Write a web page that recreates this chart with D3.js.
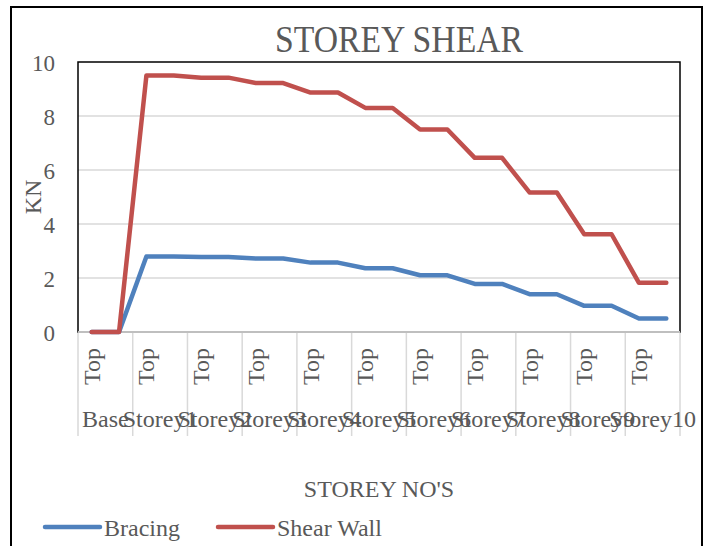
<!DOCTYPE html>
<html>
<head>
<meta charset="utf-8">
<script src="https://cdn.jsdelivr.net/npm/d3@7"></script>
<style>
  body { margin: 0; background: #fff; }
  text { font-family: "Liberation Serif", "Times New Roman", serif; fill: #595959; }
</style>
</head>
<body>
<div id="chart-container"></div>
<script>
(function() {
  'use strict';

// storey groups (outer level of the category axis)
const groups = ['Base', 'Storey1', 'Storey2', 'Storey3', 'Storey4', 'Storey5',
                'Storey6', 'Storey7', 'Storey8', 'Storey9', 'Storey10'];
// inner level: two points per storey, only the first one is labelled
const innerLabels = ['Top', ''];

const bracing = [0, 0, 2.8, 2.8, 2.78, 2.78, 2.72, 2.72, 2.57, 2.57, 2.36, 2.36,
                 2.1, 2.1, 1.78, 1.78, 1.4, 1.4, 0.97, 0.97, 0.5, 0.5];
const shearWall = [0, 0, 9.5, 9.5, 9.42, 9.42, 9.22, 9.22, 8.87, 8.87, 8.3, 8.3,
                   7.5, 7.5, 6.45, 6.45, 5.17, 5.17, 3.62, 3.62, 1.82, 1.82];

const yTicks = [0, 2, 4, 6, 8, 10];

const chart = "#chart-container";

const W = 709;
const H = 546;
const PLOT = { left: 78, right: 680, top: 62, bottom: 332 };

const BLUE = '#4F81BD';
const RED = '#C0504D';

const svg = d3.select(chart)
              .append('svg')
                .attr('width', W)
                .attr('height', H);

// outer chart border (runs off the bottom of the picture)
svg.append('rect')
  .attr('x', 11)
  .attr('y', 7)
  .attr('width', 691)
  .attr('height', 580)
  .attr('fill', 'none')
  .attr('stroke', '#000')
  .attr('stroke-width', 2);

const points = d3.range(groups.length * innerLabels.length);

const xScale = d3.scalePoint()
                .domain(points)
                .range([PLOT.left, PLOT.right])
                .padding(0.5);

const groupScale = d3.scaleBand()
                .domain(groups)
                .range([PLOT.left, PLOT.right]);

const yScale = d3.scaleLinear()
                .domain([0, 10])
                .range([PLOT.bottom, PLOT.top]);

// gridlines
const yAxis = d3.axisLeft(yScale)
                .tickValues(yTicks)
                .tickSize(0)
                .tickPadding(0);

svg.append('g')
  .attr('class', 'grid')
  .selectAll('line')
  .data(yTicks.filter(t => t > 0 && t < 10))
  .enter()
  .append('line')
    .attr('x1', PLOT.left)
    .attr('x2', PLOT.right)
    .attr('y1', d => yScale(d))
    .attr('y2', d => yScale(d))
    .attr('stroke', '#d9d9d9')
    .attr('stroke-width', 1.5);

// plot area border
svg.append('rect')
  .attr('x', PLOT.left)
  .attr('y', PLOT.top)
  .attr('width', PLOT.right - PLOT.left)
  .attr('height', PLOT.bottom - PLOT.top)
  .attr('fill', 'none')
  .attr('stroke', '#000')
  .attr('stroke-width', 1.5);

const yG = svg.append('g')
  .attr('id', 'y-axis')
  .attr('transform', `translate(${PLOT.left - 23}, 0)`)
  .call(yAxis);
yG.select('.domain').remove();
yG.selectAll('text')
  .style('font-size', '23px')
  .attr('fill', '#595959')
  .style('font-family', '"Liberation Serif", serif')
  .attr('dy', '0.35em');

// category axis: baseline and group separators
svg.append('line')
  .attr('x1', PLOT.left)
  .attr('x2', PLOT.right)
  .attr('y1', PLOT.bottom)
  .attr('y2', PLOT.bottom)
  .attr('stroke', '#bfbfbf')
  .attr('stroke-width', 2);

const sepX = groups.map(g => groupScale(g)).concat([PLOT.right]);
svg.append('g')
  .selectAll('line')
  .data(sepX)
  .enter()
  .append('line')
    .attr('x1', d => d)
    .attr('x2', d => d)
    .attr('y1', PLOT.bottom + 1)
    .attr('y2', 436)
    .attr('stroke', '#d9d9d9')
    .attr('stroke-width', 1.5);

// inner labels (rotated)
svg.append('g')
  .selectAll('text')
  .data(points.filter(i => innerLabels[i % innerLabels.length] !== ''))
  .enter()
  .append('text')
    .attr('transform', d => `translate(${xScale(d) + 8}, 348) rotate(-90)`)
    .attr('text-anchor', 'end')
    .style('font-size', '24px')
    .text(d => innerLabels[d % innerLabels.length]);

// outer labels
svg.append('g')
  .selectAll('text')
  .data(groups)
  .enter()
  .append('text')
    .attr('x', d => groupScale(d) + groupScale.bandwidth() / 2)
    .attr('y', 427)
    .attr('text-anchor', 'middle')
    .style('font-size', '24px')
    .text(d => d);

// lines
const line = d3.line()
  .x((d, i) => xScale(i))
  .y(d => yScale(d));

[[bracing, BLUE], [shearWall, RED]].forEach(([data, color]) => {
  svg.append('path')
    .datum(data)
    .attr('d', line)
    .attr('fill', 'none')
    .attr('stroke', color)
    .attr('stroke-width', 4.5)
    .attr('stroke-linejoin', 'round')
    .attr('stroke-linecap', 'round');
});

// titles
svg.append('text')
  .attr('x', 399)
  .attr('y', 52)
  .attr('text-anchor', 'middle')
  .attr('textLength', 248)
  .attr('lengthAdjust', 'spacingAndGlyphs')
  .style('font-size', '37px')
  .text('STOREY SHEAR');

svg.append('text')
  .attr('transform', 'translate(41, 197) rotate(-90)')
  .attr('text-anchor', 'middle')
  .style('font-size', '24px')
  .text('KN');

svg.append('text')
  .attr('x', (PLOT.left + PLOT.right) / 2)
  .attr('y', 497)
  .attr('text-anchor', 'middle')
  .style('font-size', '24px')
  .text("STOREY NO'S");

// legend
const legend = [
  { name: 'Bracing', color: BLUE, x: 45 },
  { name: 'Shear Wall', color: RED, x: 218 }
];
const lg = svg.append('g').selectAll('g')
  .data(legend)
  .enter()
  .append('g')
    .attr('transform', d => `translate(${d.x}, 527)`);
lg.append('line')
  .attr('x1', 0)
  .attr('x2', 55)
  .attr('stroke', d => d.color)
  .attr('stroke-width', 4.5)
  .attr('stroke-linecap', 'round');
lg.append('text')
  .attr('x', 59)
  .attr('y', 9)
  .style('font-size', '24px')
  .text(d => d.name);

})()
</script>
</body>
</html>
